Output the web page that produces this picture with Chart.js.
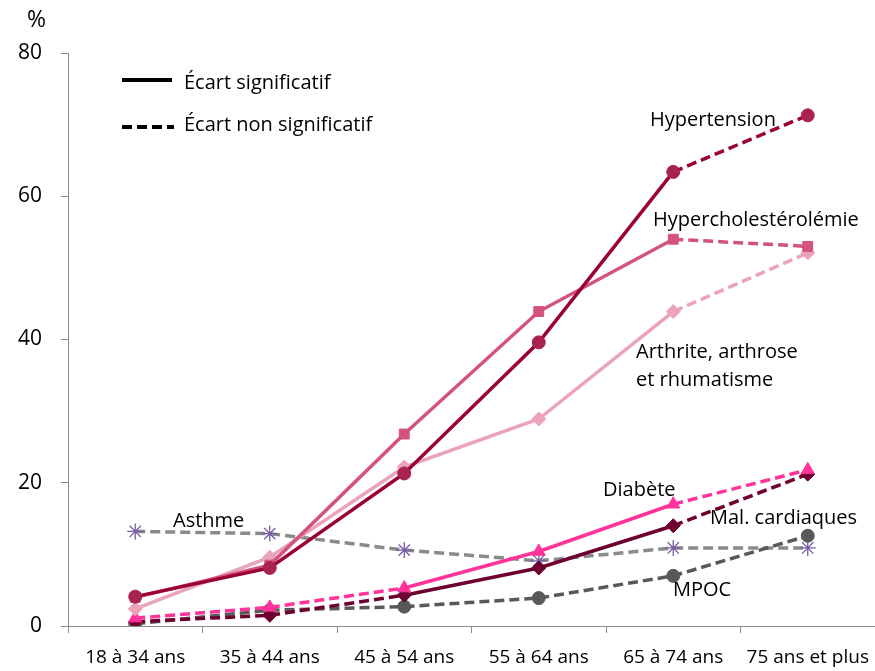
<!DOCTYPE html>
<html>
<head>
<meta charset="utf-8">
<script src="https://cdn.jsdelivr.net/npm/chart.js@4"></script>
<style>
  html, body { margin: 0; padding: 0; background: #fff; overflow: hidden; }
  #wrap { width: 875px; height: 671px; position: relative; }
  canvas { display: block; }
</style>
</head>
<body>
<div id="wrap"><canvas id="chart"></canvas></div>
<script>
// Categories and values
const ageGroups = ['18 à 34 ans', '35 à 44 ans', '45 à 54 ans', '55 à 64 ans', '65 à 74 ans', '75 ans et plus'];
const yTicks = [0, 20, 40, 60, 80];

const hypertension = [4.1, 8.1, 21.3, 39.6, 63.4, 71.3];
const hypercholesterolemie = [4.0, 8.5, 26.8, 43.9, 54.0, 53.0];
const arthrite = [2.4, 9.6, 22.2, 28.9, 43.9, 52.1];
const diabete = [1.1, 2.6, 5.3, 10.4, 17.0, 21.8];
const malCardiaques = [0.6, 1.5, 4.3, 8.1, 14.0, 21.2];
const mpoc = [0.3, 2.2, 2.7, 3.9, 7.0, 12.6];
const asthme = [13.2, 12.9, 10.6, 9.1, 10.9, 10.9];

// 1 = segment starting at that point is "non significatif" (dashed)
const dashHypertension = [0, 0, 0, 0, 1];
const dashHyperchol = [0, 0, 0, 0, 1];
const dashArthrite = [0, 0, 0, 0, 1];
const dashDiabete = [1, 1, 0, 0, 1];
const dashMalCard = [1, 1, 0, 0, 1];
const dashMpoc = [1, 1, 1, 1, 1];
const dashAsthme = [1, 1, 1, 1, 1];

const DASH = [10, 5];
const FONT = '"Open Sans", sans-serif';

function series(label, data, dashes, color, pointStyle, pointColor, radius) {
    return {
        label,
        data,
        borderColor: color,
        borderWidth: 3.5,
        pointStyle,
        pointRadius: radius,
        pointHoverRadius: radius,
        pointBackgroundColor: pointColor,
        pointBorderColor: pointColor,
        pointBorderWidth: 1,
        tension: 0,
        fill: false,
        segment: {
            borderDash: ctx => dashes[ctx.p0DataIndex] ? DASH : undefined
        }
    };
}

// Text labels placed next to the curves
const notes = [
    { text: '%', x: 27, y: 20, size: 23 },
    { text: 'Hypertension', x: 650, y: 120 },
    { text: 'Hypercholestérolémie', x: 653, y: 220 },
    { text: 'Arthrite, arthrose', x: 636, y: 352 },
    { text: 'et rhumatisme', x: 636, y: 380 },
    { text: 'Diabète', x: 603, y: 490 },
    { text: 'Mal. cardiaques', x: 710, y: 518 },
    { text: 'MPOC', x: 673, y: 590 },
    { text: 'Asthme', x: 173, y: 521 }
];

const overlay = {
    id: 'overlay',
    afterDraw(chart) {
        const c = chart.ctx;
        c.save();
        c.fillStyle = '#000';
        c.textBaseline = 'middle';
        c.textAlign = 'left';
        notes.forEach(n => {
            c.font = (n.size || 20) + 'px ' + FONT;
            c.fillText(n.text, n.x, n.y);
        });
        // line-style legend
        c.strokeStyle = '#000';
        c.lineWidth = 4;
        c.beginPath();
        c.moveTo(122, 80); c.lineTo(172, 80);
        c.stroke();
        c.setLineDash(DASH);
        c.beginPath();
        c.moveTo(122, 127); c.lineTo(174, 127);
        c.stroke();
        c.setLineDash([]);
        c.font = '20px ' + FONT;
        c.fillText('Écart significatif', 184, 83);
        c.fillText('Écart non significatif', 184, 125);
        c.restore();
    }
};

new Chart(document.getElementById('chart'), {
    type: 'line',
    data: {
        labels: ageGroups,
        datasets: [
            series('Hypertension', hypertension, dashHypertension, '#9B0036', 'circle', '#A8234F', 6.5),
            series('Hypercholestérolémie', hypercholesterolemie, dashHyperchol, '#D4527F', 'rect', '#D4527F', 7),
            series('Arthrite, arthrose et rhumatisme', arthrite, dashArthrite, '#EBA3BC', 'rectRot', '#EBA3BC', 7),
            series('Diabète', diabete, dashDiabete, '#FF3399', 'triangle', '#FF3399', 7.5),
            series('Mal. cardiaques', malCardiaques, dashMalCard, '#6E0030', 'rectRot', '#6E0030', 7),
            series('MPOC', mpoc, dashMpoc, '#595959', 'circle', '#595959', 6.5),
            Object.assign(series('Asthme', asthme, dashAsthme, '#8A8A8A', 'star', '#7A5CA8', 8), { pointBorderWidth: 1.3 })
        ]
    },
    options: {
        responsive: true,
        maintainAspectRatio: false,
        animation: false,
        layout: {
            autoPadding: false,
            padding: { top: 53, right: 0, bottom: 0, left: 0 }
        },
        plugins: {
            legend: { display: false },
            title: { display: false },
            tooltip: { enabled: false }
        },
        scales: {
            x: {
                offset: true,
                grid: {
                    offset: true,
                    drawOnChartArea: false,
                    drawTicks: true,
                    tickLength: 7,
                    color: '#8C8C8C'
                },
                border: { display: true, color: '#8C8C8C', width: 1 },
                ticks: {
                    color: '#000',
                    font: { family: FONT, size: 19 },
                    padding: 13,
                    maxRotation: 0,
                    autoSkip: false
                },
                afterFit: s => {
                    s.height = 45;
                    s.paddingLeft = 0;
                    s.paddingRight = 0;
                }
            },
            y: {
                min: 0,
                max: 80,
                afterBuildTicks: s => { s.ticks = yTicks.map(v => ({ value: v })); },
                grid: {
                    drawOnChartArea: false,
                    drawTicks: true,
                    tickLength: 7,
                    color: '#8C8C8C'
                },
                border: { display: true, color: '#8C8C8C', width: 1 },
                ticks: {
                    color: '#000',
                    font: { family: FONT, size: 21 },
                    padding: 19
                },
                afterFit: s => {
                    s.width = 68;
                    s.paddingTop = 0;
                    s.paddingBottom = 0;
                }
            }
        }
    },
    plugins: [overlay]
});
</script>
</body>
</html>
